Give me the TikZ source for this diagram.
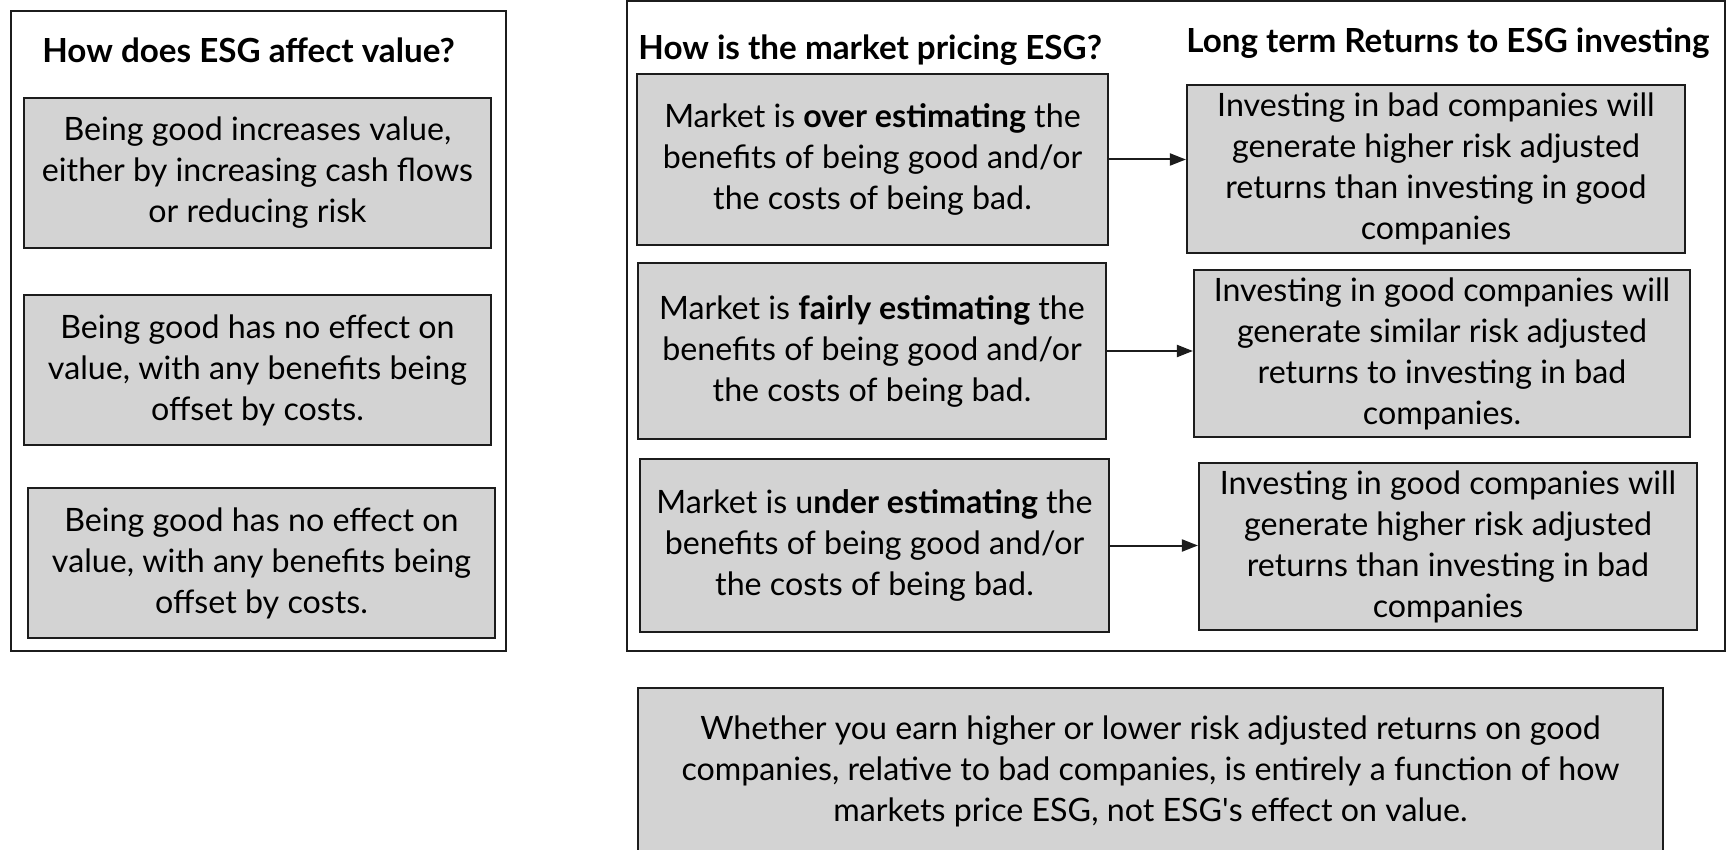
\documentclass[tikz,border=0pt]{standalone}
\usepackage{fontspec}
\setmainfont{Lato}
\usetikzlibrary{arrows.meta}
\definecolor{boxfill}{RGB}{211,211,211}
\definecolor{edge}{RGB}{28,28,28}

\begin{document}
\begin{tikzpicture}[x=0.5pt,y=-0.5pt,
  panel/.style={draw=edge,line width=1pt},
  card/.style={draw=edge,line width=1.1pt,fill=boxfill,align=center,inner sep=0pt,
    font=\fontsize{16.1}{20.5}\selectfont},
  heading/.style={anchor=west,inner sep=0pt,font=\bfseries\fontsize{16.6}{18}\selectfont},
  link/.style={draw=edge,line width=1pt,-{Triangle[length=8pt,width=6pt]}}]

\useasboundingbox (0,0) rectangle (1730,850);
\clip (0,0) rectangle (1730,850);

% left panel: effect of ESG on value
\draw[panel] (11,11) rectangle (506,651);
\node[heading] (t1) at (42,50) {How does ESG affect value?};
\node[card,minimum width=233.5pt,minimum height=75pt] (L1) at (257.5,173)
  {Being good increases value,\\either by increasing cash flows\\or reducing risk};
\node[card,minimum width=233.5pt,minimum height=75pt] (L2) at (257.5,370)
  {Being good has no effect on\\value, with any benefits being\\offset by costs.};
\node[card,minimum width=233.5pt,minimum height=75pt] (L3) at (261.5,563)
  {Being good has no effect on\\value, with any benefits being\\offset by costs.};

% right panel: market pricing and long term returns
\draw[panel] (627,1.5) rectangle (1725,651);
\node[heading] (t2) at (638,50) {How is the market pricing ESG?};
\node[heading] (t3) at (1186,43) {Long term Returns to ESG investing};

\node[card,minimum width=235.5pt,minimum height=85.5pt] (M1) at (872.5,159.5)
  {Market is \textbf{over estimating} the\\benefits of being good and/or\\the costs of being bad.};
\node[card,minimum width=234pt,minimum height=88pt] (M2) at (872,351)
  {Market is \textbf{fairly estimating} the\\benefits of being good and/or\\the costs of being bad.};
\node[card,minimum width=234.5pt,minimum height=86.5pt] (M3) at (874.5,545.5)
  {Market is u\textbf{nder estimating} the\\benefits of being good and/or\\the costs of being bad.};

\node[card,minimum width=249pt,minimum height=84pt] (R1) at (1436,169)
  {Investing in bad companies will\\generate higher risk adjusted\\returns than investing in good\\companies};
\node[card,minimum width=248pt,minimum height=83.5pt] (R2) at (1442,353.5)
  {Investing in good companies will\\generate similar risk adjusted\\returns to investing in bad\\companies.};
\node[card,minimum width=249pt,minimum height=83.5pt] (R3) at (1448,546.5)
  {Investing in good companies will\\generate higher risk adjusted\\returns than investing in bad\\companies};

\draw[link] (M1.east) -- (M1.east -| R1.west);
\draw[link] (M2.east) -- (M2.east -| R2.west);
\draw[link] (M3.east) -- (M3.east -| R3.west);

% conclusion box running off the lower edge
\node[card,minimum width=512.5pt,minimum height=83pt] (C) at (1150.5,771)
  {Whether you earn higher or lower risk adjusted returns on good\\companies, relative to bad companies, is entirely a function of how\\markets price ESG, not ESG\textquotesingle s effect on value.};
\end{tikzpicture}
\end{document}
